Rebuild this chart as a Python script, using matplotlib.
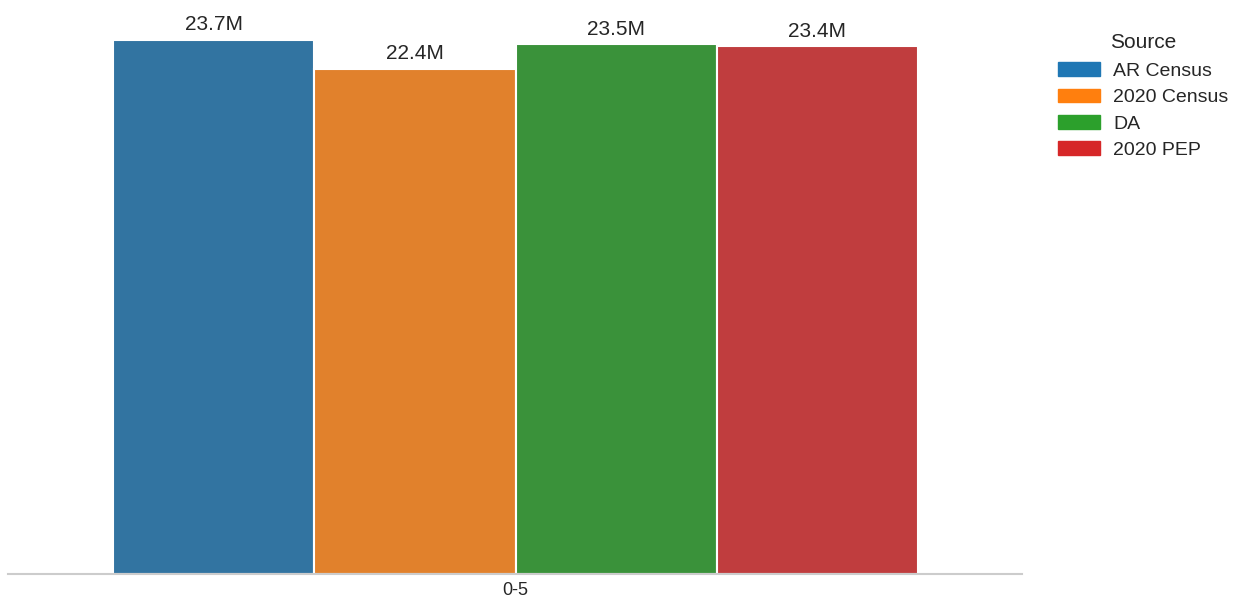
import matplotlib
matplotlib.use("Agg")
import matplotlib.pyplot as plt
import pandas as pd
import seaborn as sns

# Population counts (millions) for the 0-5 age group, by source
age_groups = ["0-5"]
sources = ["AR Census", "2020 Census", "DA", "2020 PEP"]
population_m = [23.7, 22.4, 23.5, 23.4]

df = pd.DataFrame({
    "Age": age_groups * len(sources),
    "Source": sources,
    "Population": population_m,
})

sns.set_style("white")
plt.rcParams["font.family"] = ["Liberation Sans", "DejaVu Sans"]

fig = plt.figure(figsize=(12.36, 5.97), dpi=100)
ax = fig.add_axes([8 / 1236, 23 / 597, 1014 / 1236, 561 / 597])

sns.barplot(data=df, x="Age", y="Population", hue="Source", hue_order=sources,
            palette="tab10", saturation=0.75, edgecolor="white", linewidth=1.5,
            ax=ax, legend=False)

for bar, val in zip(ax.patches, population_m):
    ax.annotate(f"{val:.1f}M", (bar.get_x() + bar.get_width() / 2, bar.get_height()),
                xytext=(0, 4), textcoords="offset points",
                ha="center", va="bottom", fontsize=15, color="#262626")

ax.set_xlim(-0.5045, 0.5035)
ax.set_ylim(0, 23.7 * 1.05)
ax.set_xlabel("")
ax.set_ylabel("")
ax.set_yticks([])
ax.tick_params(axis="x", labelsize=13, colors="#262626", length=0, pad=6)
for side in ["left", "right", "top"]:
    ax.spines[side].set_visible(False)
ax.spines["bottom"].set_color("#cccccc")
ax.spines["bottom"].set_linewidth(1.5)

# Legend uses the undimmed palette colours
handles = [plt.Rectangle((0, 0), 1, 1, color=c) for c in sns.color_palette("tab10", len(sources))]
leg = fig.legend(handles, sources, title="Source", loc="upper left",
                 bbox_to_anchor=(1040 / 1236, 1 - 16 / 597), frameon=False,
                 fontsize=14, title_fontsize=15, handlelength=2.2, handleheight=0.7,
                 handletextpad=0.65, labelspacing=0.45)
leg._legend_box.sep = 7

fig.savefig("out.png", dpi=100)
